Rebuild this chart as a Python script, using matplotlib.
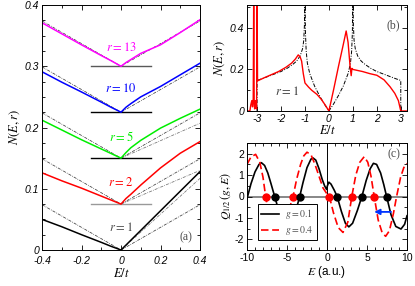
import matplotlib
matplotlib.use("Agg")
import matplotlib.pyplot as plt
from matplotlib.ticker import MultipleLocator, FixedLocator

plt.rcParams["mathtext.fontset"] = "stix"
plt.rcParams["axes.unicode_minus"] = False
plt.rcParams["font.family"] = ["Liberation Sans", "DejaVu Sans"]

# -----------------------------
# Panel (a): N(E,r) near E=0, curves shifted by r
# -----------------------------
E_a = [-0.4, -0.3, -0.2, -0.1, -0.05, 0.0, 0.025, 0.05, 0.1, 0.2, 0.3, 0.4]
r_labels = ["1", "2", "5", "10", "13"]
r_offsets = [0.0, 0.075, 0.15, 0.225, 0.3]
r_colors = ["black", "#ff0000", "#00ee00", "#0000ff", "#ff00ff"]
N_r1 = [0.050, 0.038, 0.025, 0.0125, 0.006, 0.0, 0.008, 0.016, 0.032, 0.064, 0.096, 0.128]
N_r2 = [0.051, 0.038, 0.026, 0.013, 0.0065, 0.0, 0.009, 0.016, 0.031, 0.059, 0.083, 0.102]
N_r5 = [0.062, 0.046, 0.030, 0.015, 0.0075, 0.0, 0.009, 0.017, 0.029, 0.049, 0.065, 0.080]
N_r10 = [0.066, 0.049, 0.033, 0.0165, 0.008, 0.0, 0.008, 0.014, 0.025, 0.042, 0.061, 0.080]
N_r13 = [0.071, 0.053, 0.035, 0.0175, 0.009, 0.0, 0.006, 0.011, 0.021, 0.035, 0.055, 0.076]
N_a = [N_r1, N_r2, N_r5, N_r10, N_r13]
label_y = [0.036, 0.110, 0.185, 0.264, 0.331]

# reference lines (dash-dot)
E_ref = [-0.4, 0.0, 0.4]
N_ref = [0.074, 0.0, 0.074]
E_ref_right = [0.0, 0.4]
N_ref_right = {"1": [0.0, 0.117], "2": [0.0, 0.055], "5": [0.0, 0.057]}
base_colors = {"2": "0.6", "5": "black", "10": "black", "13": "0.35"}

# -----------------------------
# Panel (b): N(E, r=1) over the whole band
# -----------------------------
E_bulk = [0.0, 0.2, 0.4, 0.6, 0.8, 0.9, 0.95, 0.98, 1.0, 1.02, 1.05, 1.1,
          1.2, 1.35, 1.5, 1.75, 2.0, 2.5, 2.8, 3.0, 3.0]
N_bulk = [0.0, 0.035, 0.075, 0.12, 0.18, 0.23, 0.29, 0.38, 0.6, 0.42, 0.34, 0.30,
          0.265, 0.24, 0.225, 0.205, 0.19, 0.168, 0.155, 0.147, 0.0]
E_red_b = [-3.40, -3.30, -3.26, -3.22, -3.19, -3.16, -3.14, -3.12, -3.10, -3.07,
           -3.04, -3.02, -3.00, -2.98, -2.7, -2.4, -2.1, -1.8, -1.56, -1.4,
           -1.28, -1.2, -1.14, -1.07, -1.0, -0.85, -0.72, -0.5, -0.31, -0.15,
           0.0, 0.2, 0.4, 0.6, 0.72, 0.8, 0.88, 0.93, 0.96, 1.0, 1.2, 1.4,
           1.7, 2.0, 2.3, 2.55, 2.75, 2.9, 3.0, 3.26]
N_red_b = [0.0, 0.0, 0.03, 0.05, 0.02, 0.06, 0.56, 0.03, 0.01, 0.05,
           0.02, 0.01, 0.56, 0.145, 0.16, 0.175, 0.19, 0.21, 0.23, 0.25,
           0.27, 0.26, 0.24, 0.18, 0.135, 0.115, 0.10, 0.08, 0.055, 0.028,
           0.0, 0.105, 0.215, 0.32, 0.385, 0.33, 0.22, 0.17, 0.205, 0.20, 0.195, 0.19,
           0.18, 0.172, 0.15, 0.117, 0.085, 0.05, 0.0, 0.0]

# -----------------------------
# Panel (c): Q_{1/2}(g,E)
# -----------------------------
E_c1 = [-10, -9.5, -9.0, -8.5, -8.2, -7.8, -7.4, -7.0, -6.54, -6.0, -5.5, -5.0,
        -4.5, -4.0, -3.41, -3.0, -2.5, -2.0, -1.74, -1.4, -1.0, -0.6, -0.3,
        -0.05, 0.05, 0.23, 0.5, 0.9, 1.27, 1.8, 2.3, 2.73, 3.2, 3.8, 4.36,
        4.9, 5.4, 5.8, 6.2, 6.7, 7.1, 7.45, 8.0, 8.6, 9.25, 9.7, 10]
Q_c1 = [-0.1, 0.6, 1.15, 1.5, 1.58, 1.45, 1.1, 0.6, 0.0, -0.7, -1.15, -1.35,
        -1.2, -0.8, 0.0, 0.65, 1.35, 1.75, 1.8, 1.7, 1.3, 0.8, 0.5,
        0.33, 0.5, 0.67, 0.58, 0.3, 0.0, -0.7, -1.25, -1.42, -1.25, -0.65, 0.0,
        0.75, 1.3, 1.55, 1.5, 1.1, 0.55, 0.0, -0.85, -1.4, -1.52, -1.3, -0.9]
E_c4 = [-10, -9.5, -8.92, -8.4, -8.0, -7.67, -7.2, -6.7, -6.2, -5.7, -5.2,
        -4.7, -4.24, -3.8, -3.3, -2.9, -2.5, -2.0, -1.5, -1.0, -0.5, 0.0, 0.3,
        0.8, 1.4, 2.0, 2.6, 3.1, 3.6, 4.1, 4.65, 5.1, 5.5, 5.9, 6.4, 6.9, 7.33,
        7.8, 8.3, 8.7, 9.2, 9.6, 10]
Q_c4 = [1.5, 1.85, 1.97, 1.6, 0.9, 0.0, -1.0, -1.7, -2.0, -1.8, -1.2,
        -0.55, 0.0, 0.8, 1.5, 1.9, 2.07, 1.95, 1.5, 0.95, 0.4, 0.12, 0.0,
        -0.75, -1.45, -1.68, -1.2, 0.0, 1.0, 1.6, 1.86, 1.6, 0.95, 0.0, -1.1, -1.7, -1.86,
        -1.6, -0.8, 0.0, 0.9, 1.35, 1.55]
zeros_g1 = [-6.45, -3.4, 1.3, 4.35, 7.45]
zeros_g4 = [-7.66, -4.24, 0.3, 3.1, 5.9]

fig = plt.figure(figsize=(4.15, 2.86), dpi=100)
ax_a = fig.add_axes([42/415, 36/286, 158/415, 245/286])
ax_b = fig.add_axes([247/415, 175/286, 160/415, 106/286])
ax_c = fig.add_axes([247/415, 36/286, 160/415, 107/286])

dashdot = (0, (4, 1.5, 1, 1.5))
tick_font = {"fontsize": 7.5}

for ax in [ax_a, ax_b, ax_c]:
    ax.tick_params(which="both", direction="in", top=True, right=True, width=0.6)
    ax.tick_params(which="major", length=3.5, pad=2)
    ax.tick_params(which="minor", length=2)
    for s in ax.spines.values():
        s.set_linewidth(0.7)
ax_a.tick_params(axis="x", which="major", pad=4)

# --- (a)
for lab, off, col, vals, ly in zip(r_labels, r_offsets, r_colors, N_a, label_y):
    ax_a.plot(E_ref, [off + v for v in N_ref], color="0.25", lw=0.55, ls=dashdot)
    if lab in N_ref_right:
        ax_a.plot(E_ref_right, [off + v for v in N_ref_right[lab]],
                  color="0.45", lw=0.55, ls=dashdot)
    if lab in base_colors:
        ax_a.plot([-0.15, 0.15], [off, off], color=base_colors[lab], lw=1.0)
    ax_a.plot(E_a, [off + v for v in vals], color=col, lw=1.1)
    ax_a.text(0.0, ly, r"$r = %s$" % lab, color=col if lab != "1" else "0.3",
              ha="center", va="center", fontsize=9)
ax_a.text(0.33, 0.02, "(a)", family="Liberation Serif", fontsize=8.5,
          ha="center", va="center", color="0.3")
ax_a.set_xlim(-0.4, 0.4)
ax_a.set_ylim(0, 0.4)
ax_a.xaxis.set_major_locator(FixedLocator([-0.4, -0.2, 0, 0.2, 0.4]))
ax_a.xaxis.set_minor_locator(MultipleLocator(0.1))
ax_a.yaxis.set_major_locator(MultipleLocator(0.1))
ax_a.yaxis.set_minor_locator(MultipleLocator(0.025))
ax_a.set_xticklabels(["-0.4", "-0.2", "0", "0.2", "0.4"], style="italic", **tick_font)
ax_a.set_yticks([0, 0.1, 0.2, 0.3, 0.4])
ax_a.set_yticklabels(["0", "0.1", "0.2", "0.3", "0.4"], style="italic", **tick_font)
ax_a.set_xlabel(r"$E/t$", fontsize=9, labelpad=1)
ax_a.set_ylabel(r"$N(E,r)$", fontsize=9, labelpad=2)

# --- (b)
E_full = [-e for e in E_bulk[::-1]] + E_bulk
N_full = N_bulk[::-1] + N_bulk
ax_b.plot(E_full, N_full, color="black", lw=0.7, ls=dashdot)
ax_b.plot(E_red_b, N_red_b, color="#ff0000", lw=1.0)
ax_b.text(-1.75, 0.092, r"$r = 1$", fontsize=9, ha="center", va="center", color="0.25")
ax_b.text(2.7, 0.41, "(b)", family="Liberation Serif", fontsize=8.5,
          ha="center", va="center", color="0.3")
ax_b.set_xlim(-3.42, 3.26)
ax_b.set_ylim(0, 0.51)
ax_b.set_xticks([-3, -2, -1, 0, 1, 2, 3])
ax_b.set_xticklabels(["-3", "-2", "-1", "0", "1", "2", "3"], style="italic", **tick_font)
ax_b.set_yticks([0, 0.2, 0.4])
ax_b.set_yticklabels(["0", "0.2", "0.4"], style="italic", **tick_font)
ax_b.yaxis.set_minor_locator(MultipleLocator(0.1))
ax_b.set_xlabel(r"$E/t$", fontsize=9, labelpad=0)
ax_b.set_ylabel(r"$N(E,r)$", fontsize=9, labelpad=2)

# --- (c)
ax_c.axhline(0, color="0.45", lw=1.2, zorder=1)
ax_c.axvline(0, color="black", lw=0.7, zorder=1)
l1, = ax_c.plot(E_c1, Q_c1, color="black", lw=1.2, zorder=2)
l4, = ax_c.plot(E_c4, Q_c4, color="#ff0000", lw=1.2, ls=(0, (4.5, 2.2)), zorder=2)
ax_c.plot(zeros_g4, [0] * len(zeros_g4), "o", color="#ff0000", ms=5, zorder=4)
ax_c.plot(zeros_g1, [0] * len(zeros_g1), "o", color="black", ms=5, zorder=4)
ax_c.annotate("", xy=(5.9, -0.72), xytext=(8.0, -0.72),
              arrowprops=dict(arrowstyle="-|>", color="#0033ff", lw=1.3,
                              mutation_scale=8, shrinkA=0, shrinkB=0))
ax_c.text(8.4, 1.97, "(c)", family="Liberation Serif", fontsize=8.5,
          ha="center", va="center", color="0.3")
leg = ax_c.legend([l1, l4], [r"$g = 0.1$", r"$g = 0.4$"], loc="lower left",
                  bbox_to_anchor=(0.069, 0.094, 0.37, 0.243), mode="expand",
                  fontsize=7, handlelength=1.9, handletextpad=0.6, borderpad=0.3,
                  labelspacing=0.3, fancybox=False, framealpha=1,
                  edgecolor="black", borderaxespad=0)
leg.get_frame().set_linewidth(0.7)
for t in leg.get_texts():
    t.set_color("0.3")
ax_c.set_xlim(-10, 10)
ax_c.set_ylim(-2.5, 2.5)
ax_c.set_xticks([-10, -5, 0, 5, 10])
ax_c.set_xticklabels(["-10", "-5", "0", "5", "10"], **tick_font)
ax_c.set_yticks([-2, -1, 0, 1, 2])
ax_c.set_yticklabels(["-2", "-1", "0", "1", "2"], **tick_font)
ax_c.xaxis.set_minor_locator(MultipleLocator(1))
ax_c.yaxis.set_minor_locator(MultipleLocator(0.5))
ax_c.set_xlabel(r"$E$ (a.u.)", fontsize=8.5, labelpad=1)
ax_c.set_ylabel(r"$Q_{1/2}\,(g,E)$", fontsize=8.5, labelpad=1)

fig.savefig("out.png", dpi=100)
